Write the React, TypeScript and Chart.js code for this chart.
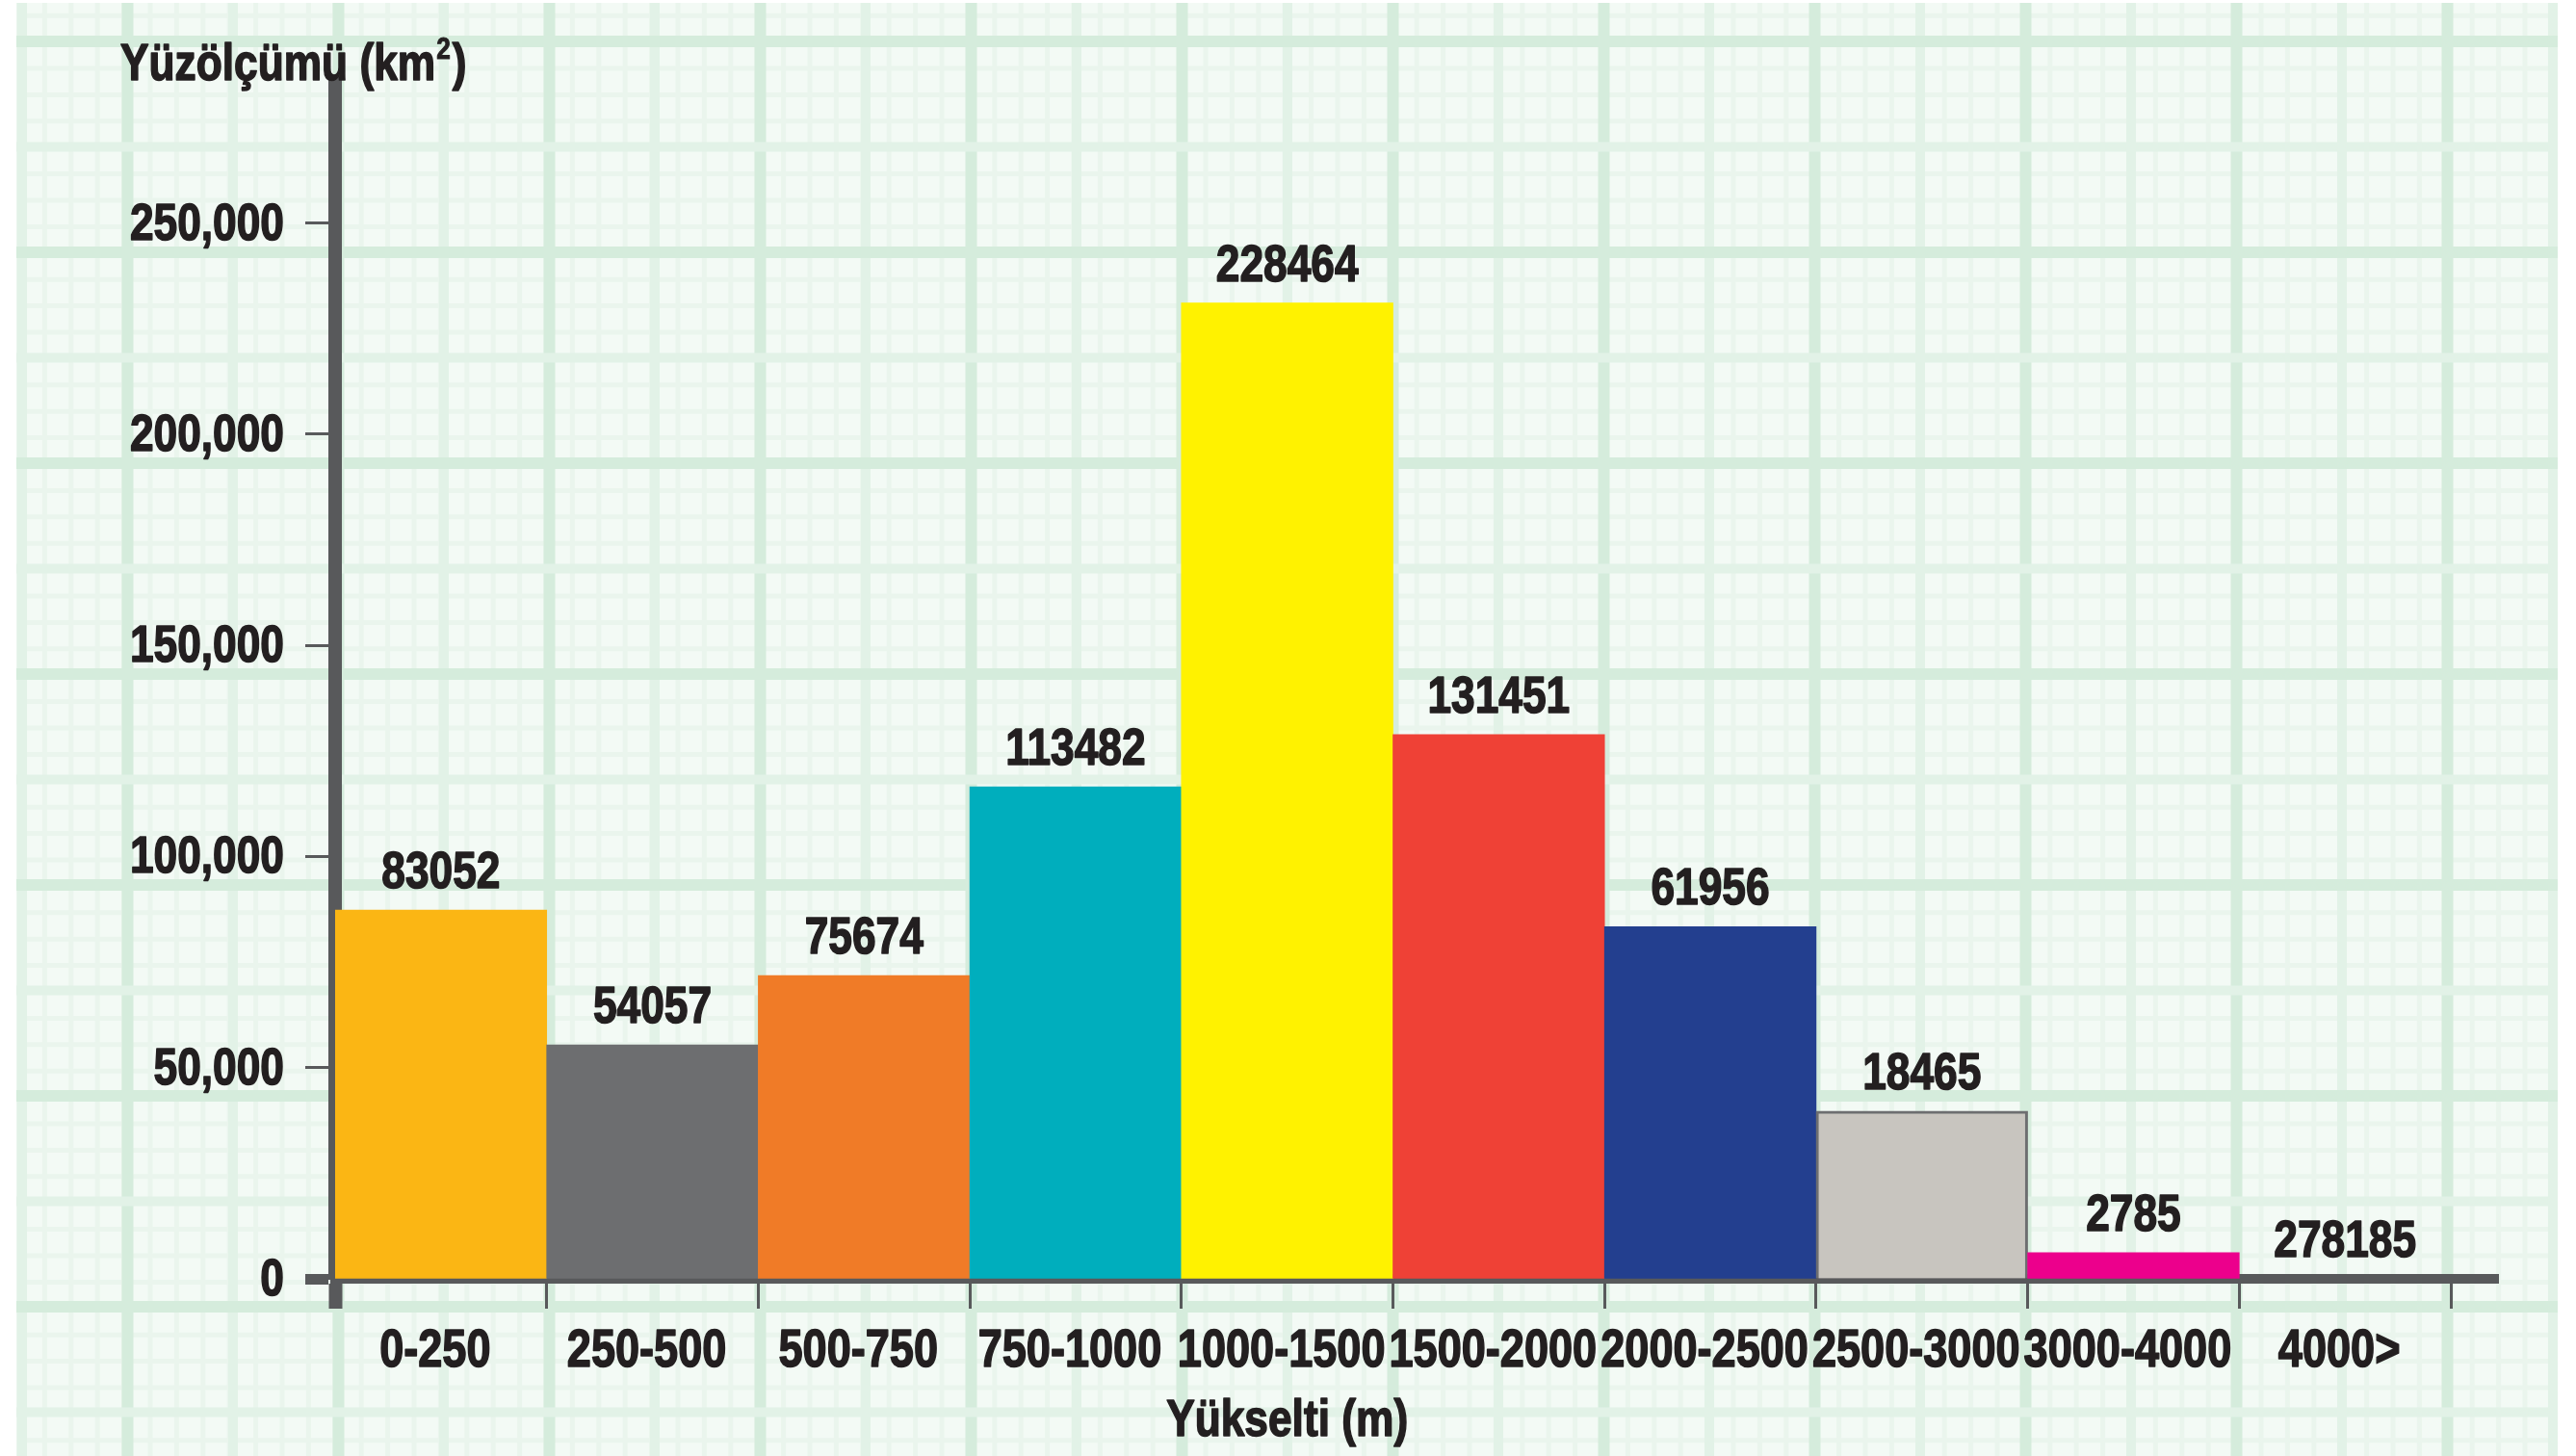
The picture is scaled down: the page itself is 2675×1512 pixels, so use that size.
import React, { useEffect, useRef } from "react";
import { Chart, registerables } from "chart.js";

Chart.register(...registerables);

const categories = ["0-250", "250-500", "500-750", "750-1000", "1000-1500", "1500-2000", "2000-2500", "2500-3000", "3000-4000", "4000>"];
const barHeights = [87300, 55400, 71800, 116500, 231100, 128900, 83400, 39700, 6200, 0];
const valueLabels = ["83052", "54057", "75674", "113482", "228464", "131451", "61956", "18465", "2785", "278185"];
const barColors = ["#fbb614", "#6d6e70", "#f07b27", "#00aebd", "#fff200", "#ef4136", "#233f8f", "#c8c5bf", "#ec008c", "rgba(0,0,0,0)"];
const barBorderWidths = [0, 0, 0, 0, 0, 0, 0, 3, 0, 0];
const yTickValues = [0, 50000, 100000, 150000, 200000, 250000];
const yMax = 283000;
const yTitleMain = "Yüzölçümü (km";
const yTitleSup = "2";
const yTitleEnd = ")";
const xTitle = "Yükselti (m)";
const xTitleCategory = 4;

const FONT = "'Liberation Sans', Arial, sans-serif";
const TEXT = "#231f20";
const AXIS = "#58595b";
const SX = 0.82; // condensed look

function drawText(ctx: any, text: string, x: number, y: number, align: string, baseline: string, size: number) {
  ctx.save();
  ctx.font = `bold ${size}px ${FONT}`;
  ctx.textAlign = align;
  ctx.textBaseline = baseline;
  ctx.fillStyle = TEXT;
  ctx.strokeStyle = TEXT;
  ctx.lineWidth = size > 40 ? 1.6 : 1;
  ctx.lineJoin = "round";
  ctx.translate(x, y);
  ctx.scale(SX, 1);
  ctx.fillText(text, 0, 0);
  ctx.strokeText(text, 0, 0);
  ctx.restore();
}

function textWidth(ctx: any, text: string, size: number) {
  ctx.save();
  ctx.font = `bold ${size}px ${FONT}`;
  const w = ctx.measureText(text).width * SX;
  ctx.restore();
  return w;
}

const backgroundPlugin = {
  id: "paperBackground",
  beforeDraw(chart: any) {
    const ctx = chart.ctx;
    const W = chart.width;
    const H = chart.height;
    ctx.save();
    ctx.fillStyle = "#ffffff";
    ctx.fillRect(0, 0, W, H);
    const x0 = 17, x1 = 2656, y0 = 3;
    ctx.beginPath();
    ctx.rect(x0, y0, x1 - x0, H - y0);
    ctx.clip();
    ctx.fillStyle = "#f3faf5";
    ctx.fillRect(x0, y0, x1 - x0, H);
    // subtle plaid sub-lines
    ctx.strokeStyle = "#eaf5ed";
    ctx.lineWidth = 5;
    for (let x = 19; x < x1; x += 27.4) { ctx.beginPath(); ctx.moveTo(x, 0); ctx.lineTo(x, H); ctx.stroke(); }
    for (let y = -66; y < H; y += 27.4) { ctx.beginPath(); ctx.moveTo(x0, y); ctx.lineTo(x1, y); ctx.stroke(); }
    // main grid lines
    let k = 0;
    for (let x = 23; x < x1; x += 109.5, k++) {
      ctx.strokeStyle = k % 2 === 1 ? "#d5ecdc" : "#e2f2e7";
      ctx.lineWidth = k % 2 === 1 ? 12 : 10;
      ctx.beginPath(); ctx.moveTo(x, 0); ctx.lineTo(x, H); ctx.stroke();
    }
    k = 0;
    for (let y = 43; y < H; y += 109.5, k++) {
      ctx.strokeStyle = k % 2 === 0 ? "#d5ecdc" : "#e2f2e7";
      ctx.lineWidth = k % 2 === 0 ? 12 : 10;
      ctx.beginPath(); ctx.moveTo(x0, y); ctx.lineTo(x1, y); ctx.stroke();
    }
    ctx.restore();
  },
};

const extrasPlugin = {
  id: "extras",
  afterDatasetsDraw(chart: any) {
    const ctx = chart.ctx;
    const meta = chart.getDatasetMeta(0);
    const xs = chart.scales.x;
    const ys = chart.scales.y;
    ctx.save();
    // x axis continuation beyond the last category
    ctx.strokeStyle = AXIS;
    ctx.lineWidth = 10;
    ctx.beginPath();
    ctx.moveTo(xs.right - 2, xs.top);
    ctx.lineTo(xs.right + 50, xs.top);
    ctx.stroke();
    ctx.restore();

    // y tick labels
    ys.ticks.forEach((t: any) => {
      const label = Number(t.value).toLocaleString("en-US");
      drawText(ctx, label, ys.right - 31 - 22, ys.getPixelForValue(t.value) + 2, "right", "middle", 54);
    });
    // x tick labels
    categories.forEach((c, i) => {
      drawText(ctx, c, xs.getPixelForValue(i) - 6, xs.top + 76, "center", "middle", 55);
    });
    // value labels above bars
    meta.data.forEach((el: any, i: number) => {
      drawText(ctx, valueLabels[i], el.x, el.y - 23, "center", "alphabetic", 54);
    });
    // x axis title
    drawText(ctx, xTitle, xs.getPixelForValue(xTitleCategory), 1476, "center", "middle", 54);
    // y axis title with superscript
    const tx = 125;
    const base = 83;
    drawText(ctx, yTitleMain, tx, base, "left", "alphabetic", 54);
    const w1 = textWidth(ctx, yTitleMain, 54);
    drawText(ctx, yTitleSup, tx + w1 + 1, base - 22, "left", "alphabetic", 32);
    const w2 = textWidth(ctx, yTitleSup, 32);
    drawText(ctx, yTitleEnd, tx + w1 + w2 + 3, base, "left", "alphabetic", 54);
  },
};

export default function App() {
  const ref = useRef<HTMLCanvasElement>(null);
  useEffect(() => {
    document.body.style.margin = "0";
    const canvas = ref.current!;
    const chart = new Chart(canvas, {
      type: "bar",
      data: {
        labels: categories,
        datasets: [
          {
            data: barHeights,
            backgroundColor: barColors,
            borderColor: "#6d6e70",
            borderWidth: barBorderWidths,
            barPercentage: 1,
            categoryPercentage: 1,
          },
        ],
      },
      options: {
        animation: false,
        responsive: false,
        devicePixelRatio: 1,
        layout: { padding: { left: 125, right: 130, top: 87, bottom: 0 } },
        plugins: {
          legend: { display: false },
          tooltip: { enabled: false },
          title: { display: false },
        },
        scales: {
          x: {
            offset: true,
            grid: {
              offset: true,
              drawOnChartArea: false,
              drawTicks: true,
              tickLength: 31,
              tickColor: AXIS,
              tickWidth: (ctx: any) => (ctx.index === 0 ? 14 : 3),
            },
            border: { display: true, color: AXIS, width: 10 },
            ticks: { display: false, autoSkip: false, maxRotation: 0, minRotation: 0 },
            afterFit: (scale: any) => {
              scale.height = 184;
            },
          },
          y: {
            min: 0,
            max: yMax,
            ticks: { display: false, stepSize: 50000 },
            afterBuildTicks: (scale: any) => {
              scale.ticks = yTickValues.map((v) => ({ value: v }));
            },
            grid: {
              drawOnChartArea: false,
              drawTicks: true,
              tickLength: 31,
              tickColor: AXIS,
              tickWidth: (ctx: any) => (ctx.tick && ctx.tick.value === 0 ? 11 : 3),
            },
            border: { display: true, color: AXIS, width: 14 },
            afterFit: (scale: any) => {
              scale.width = 223;
            },
          },
        },
      },
      plugins: [backgroundPlugin, extrasPlugin],
    } as any);
    return () => chart.destroy();
  }, []);
  return (
    <div style={{ width: 2675, height: 1512 }}>
      <canvas ref={ref} width={2675} height={1512} style={{ display: "block" }} />
    </div>
  );
}
